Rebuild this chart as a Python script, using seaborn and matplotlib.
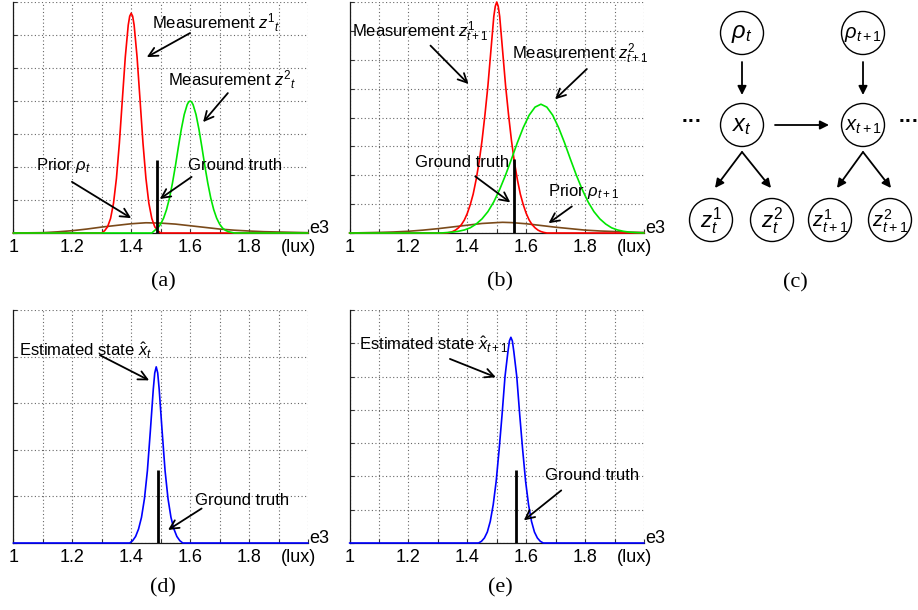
import matplotlib
matplotlib.use("Agg")
import matplotlib.pyplot as plt
import seaborn as sns
from matplotlib.patches import Circle

sns.set_style("white")
plt.rcParams["font.family"] = ["Liberation Sans", "DejaVu Sans"]
plt.rcParams["mathtext.fontset"] = "custom"
plt.rcParams["mathtext.rm"] = "Liberation Sans"
plt.rcParams["mathtext.it"] = "Liberation Sans:italic"
plt.rcParams["mathtext.bf"] = "Liberation Sans:bold"
plt.rcParams["text.color"] = "black"
plt.rcParams["xtick.color"] = "black"
plt.rcParams["ytick.color"] = "black"

# ---- data (x in e3 lux, y in grid units) ----
# (a) time t
a_red_x = [1.00, 1.30, 1.31, 1.32, 1.33, 1.34, 1.35, 1.36, 1.37, 1.38, 1.39, 1.395, 1.40,
           1.405, 1.41, 1.42, 1.43, 1.44, 1.45, 1.46, 1.47, 1.48, 1.49, 1.50, 2.00]
a_red_y = [0, 0, 0.07, 0.19, 0.44, 0.90, 1.66, 2.73, 4.04, 5.33, 6.30, 6.57, 6.66,
           6.57, 6.30, 5.33, 4.04, 2.73, 1.66, 0.90, 0.44, 0.19, 0.07, 0.0, 0]
a_green_x = [1.00, 1.47, 1.48, 1.49, 1.50, 1.51, 1.52, 1.53, 1.54, 1.55, 1.56, 1.57, 1.58,
             1.59, 1.595, 1.60, 1.605, 1.61, 1.62, 1.63, 1.64, 1.65, 1.66, 1.67, 1.68,
             1.69, 1.70, 1.71, 1.72, 1.73, 1.74, 1.75, 2.00]
a_green_y = [0, 0, 0.08, 0.15, 0.27, 0.45, 0.71, 1.06, 1.51, 2.03, 2.60, 3.14, 3.59,
             3.89, 3.97, 4.00, 3.97, 3.89, 3.59, 3.14, 2.60, 2.03, 1.51, 1.06, 0.71,
             0.45, 0.27, 0.15, 0.08, 0.04, 0.02, 0, 0]
a_prior_x = [1.00, 1.05, 1.10, 1.15, 1.20, 1.25, 1.30, 1.35, 1.40, 1.45, 1.50, 1.55,
             1.60, 1.65, 1.70, 1.75, 1.80, 1.85, 1.90, 1.95, 2.00]
a_prior_y = [0.0, 0.005, 0.01, 0.035, 0.07, 0.12, 0.18, 0.23, 0.28, 0.31, 0.30, 0.27,
             0.22, 0.17, 0.12, 0.085, 0.06, 0.04, 0.03, 0.02, 0.01]

# (b) time t+1
b_red_x = [1.00, 1.33, 1.34, 1.35, 1.36, 1.37, 1.38, 1.39, 1.40, 1.41, 1.42, 1.43, 1.44,
           1.45, 1.46, 1.47, 1.48, 1.49, 1.495, 1.50, 1.505, 1.51, 1.52, 1.53, 1.54,
           1.55, 1.56, 1.57, 1.58, 1.59, 1.60, 1.61, 1.62, 1.63, 1.64, 1.65, 1.66, 1.67, 2.00]
b_red_y = [0, 0, 0.02, 0.05, 0.10, 0.18, 0.29, 0.45, 0.68, 0.98, 1.35, 1.85, 2.45,
           3.20, 4.10, 5.10, 6.30, 7.50, 7.85, 8.00, 7.85, 7.50, 6.30, 5.10, 4.10,
           3.20, 2.45, 1.85, 1.35, 0.98, 0.68, 0.45, 0.29, 0.18, 0.10, 0.05, 0.02, 0, 0]
b_green_x = [1.00, 1.31, 1.33, 1.35, 1.37, 1.39, 1.41, 1.43, 1.45, 1.47, 1.49, 1.51, 1.53,
             1.55, 1.57, 1.59, 1.61, 1.63, 1.65, 1.67, 1.69, 1.71, 1.73, 1.75, 1.77,
             1.79, 1.81, 1.83, 1.85, 1.87, 1.89, 1.91, 1.93, 1.95, 1.97, 2.00]
b_green_y = [0, 0, 0.015, 0.03, 0.06, 0.105, 0.18, 0.31, 0.49, 0.74, 1.08, 1.51, 2.01,
             2.56, 3.13, 3.65, 4.08, 4.36, 4.46, 4.36, 4.08, 3.65, 3.13, 2.56, 2.01,
             1.51, 1.08, 0.74, 0.49, 0.31, 0.18, 0.105, 0.06, 0.03, 0.015, 0]
b_prior_x = [1.00, 1.05, 1.10, 1.15, 1.20, 1.25, 1.30, 1.35, 1.40, 1.45, 1.50, 1.52,
             1.55, 1.60, 1.65, 1.70, 1.75, 1.80, 1.85, 1.90, 1.95, 2.00]
b_prior_y = [0.0, 0.01, 0.02, 0.035, 0.06, 0.10, 0.15, 0.21, 0.27, 0.33, 0.36, 0.37,
             0.36, 0.32, 0.26, 0.20, 0.15, 0.10, 0.07, 0.05, 0.03, 0.02]

# (d) estimate at t
d_est_x = [1.00, 1.395, 1.405, 1.415, 1.425, 1.435, 1.445, 1.455, 1.465, 1.475, 1.48,
           1.485, 1.49, 1.495, 1.505, 1.515, 1.525, 1.535, 1.545, 1.555, 1.565, 1.575, 2.00]
d_est_y = [0, 0, 0.05, 0.14, 0.30, 0.55, 0.95, 1.55, 2.40, 3.30, 3.65,
           3.78, 3.65, 3.30, 2.40, 1.55, 0.95, 0.55, 0.30, 0.14, 0.05, 0, 0]

# (e) estimate at t+1
e_est_x = [1.00, 1.438, 1.448, 1.458, 1.468, 1.478, 1.488, 1.498, 1.508, 1.518, 1.528,
           1.538, 1.543, 1.548, 1.553, 1.558, 1.568, 1.578, 1.588, 1.598, 1.608, 1.618,
           1.628, 1.638, 1.648, 1.658, 2.00]
e_est_y = [0, 0, 0.05, 0.15, 0.33, 0.65, 1.15, 1.85, 2.80, 3.85, 5.00,
           5.75, 6.07, 6.18, 6.07, 5.75, 5.00, 3.85, 2.80, 1.85, 1.15, 0.65,
           0.33, 0.15, 0.05, 0, 0]

# ground truth bars for (a), (b), (d), (e)
truth_x = [1.486, 1.559, 1.490, 1.564]
truth_h = [2.20, 2.57, 1.56, 2.18]

y_tops = [7, 8, 5, 7]
xtick_vals = [1.0, 1.1, 1.2, 1.3, 1.4, 1.5, 1.6, 1.7, 1.8, 1.9, 2.0]
xtick_labels = ["1", "", "1.2", "", "1.4", "", "1.6", "", "1.8", "", ""]

RED, GREEN, BROWN, BLUE = "#ff0000", "#00e600", "#7a4a1a", "#0000ff"

W, H = 918, 610
fig = plt.figure(figsize=(9.18, 6.10), dpi=100)


def px_axes(left, top, right, bottom):
    return fig.add_axes([left / W, 1 - bottom / H, (right - left) / W, (bottom - top) / H])


def style_axes(ax, ytop):
    ax.set_xlim(1.0, 2.0)
    ax.set_ylim(0, ytop)
    ax.set_xticks(xtick_vals)
    ax.set_xticklabels(xtick_labels)
    ax.set_yticks(range(ytop + 1))
    ax.set_yticklabels([])
    ax.tick_params(axis="both", direction="in", length=3, width=0.8, color="0.2",
                   labelsize=13, pad=4, labelcolor="black")
    ax.tick_params(axis="x", bottom=True)
    ax.tick_params(axis="y", left=True)
    for s in ["top", "right"]:
        ax.spines[s].set_visible(False)
    for s in ["left", "bottom"]:
        ax.spines[s].set_color("0.1")
        ax.spines[s].set_linewidth(0.9)
    ax.grid(True, linestyle=(0, (1, 2.2)), color="0.4", linewidth=0.8)
    ax.set_axisbelow(True)
    ax.annotate("e3", xy=(1, 0), xycoords="axes fraction", xytext=(1, 0),
                textcoords="offset points", ha="left", va="baseline", fontsize=13)
    ax.annotate("(lux)", xy=(1.968, 0), xycoords=ax.get_xaxis_transform(),
                xytext=(0, -4), textcoords="offset points", ha="center", va="top",
                fontsize=13)


def curve(ax, xs, ys, color):
    sns.lineplot(x=xs, y=ys, ax=ax, color=color, linewidth=1.2, clip_on=False, zorder=3)


def note(ax, text, tpos, start, end):
    ax.text(tpos[0], tpos[1], text, ha="left", va="center", fontsize=12, zorder=5)
    ax.annotate("", xy=end, xytext=start,
                arrowprops=dict(arrowstyle="->", color="k", lw=1.3, mutation_scale=16,
                                shrinkA=0, shrinkB=0), zorder=5)


def truth(ax, i):
    ax.vlines(truth_x[i], 0, truth_h[i], color="k", linewidth=2.0, zorder=4)


ax_a = px_axes(13.3, 2, 308, 233)
ax_b = px_axes(349.5, 2, 644, 233)
ax_d = px_axes(13.3, 310, 308, 543)
ax_e = px_axes(349.5, 310, 644, 543)

# (a)
curve(ax_a, a_prior_x, a_prior_y, BROWN)
curve(ax_a, a_red_x, a_red_y, RED)
curve(ax_a, a_green_x, a_green_y, GREEN)
truth(ax_a, 0)
style_axes(ax_a, y_tops[0])
note(ax_a, r"Measurement $z^1{}_t$", (1.47, 6.36), (1.60, 6.06), (1.453, 5.33))
note(ax_a, r"Measurement $z^2{}_t$", (1.525, 4.64), (1.728, 4.24), (1.644, 3.36))
note(ax_a, r"Prior $\rho_t$", (1.077, 2.06), (1.199, 1.55), (1.40, 0.45))
note(ax_a, "Ground truth", (1.593, 2.06), (1.605, 1.70), (1.497, 1.03))

# (b)
curve(ax_b, b_prior_x, b_prior_y, BROWN)
curve(ax_b, b_red_x, b_red_y, RED)
curve(ax_b, b_green_x, b_green_y, GREEN)
truth(ax_b, 1)
style_axes(ax_b, y_tops[1])
note(ax_b, r"Measurement $z^1_{t+1}$", (1.01, 6.96), (1.275, 6.49), (1.404, 5.16))
note(ax_b, r"Measurement $z^2_{t+1}$", (1.553, 6.20), (1.806, 5.68), (1.698, 4.63))
note(ax_b, "Ground truth", (1.224, 2.43), (1.427, 1.96), (1.546, 1.06))
note(ax_b, r"Prior $\rho_{t+1}$", (1.674, 1.44), (1.755, 0.92), (1.676, 0.34))

# (d)
curve(ax_d, d_est_x, d_est_y, BLUE)
truth(ax_d, 2)
style_axes(ax_d, y_tops[2])
note(ax_d, r"Estimated state $\hat{x}_t$", (1.02, 4.13), (1.294, 4.03), (1.461, 3.49))
note(ax_d, "Ground truth", (1.616, 0.92), (1.639, 0.74), (1.525, 0.28))

# (e)
curve(ax_e, e_est_x, e_est_y, BLUE)
truth(ax_e, 3)
style_axes(ax_e, y_tops[3])
note(ax_e, r"Estimated state $\hat{x}_{t+1}$", (1.032, 5.94), (1.341, 5.53), (1.497, 4.98))
note(ax_e, "Ground truth", (1.665, 2.03), (1.719, 1.58), (1.592, 0.68))

# (c) graphical model
ax_c = fig.add_axes([660 / W, 1 - 300 / H, 258 / W, 300 / H])
ax_c.set_xlim(660, 918)
ax_c.set_ylim(300, 0)
ax_c.axis("off")
nodes = [
    (r"$\rho_t$", 742, 33, 17), (r"$\rho_{t+1}$", 863, 33, 14.5),
    (r"$x_t$", 742, 125, 17), (r"$x_{t+1}$", 863, 125, 14.5),
    (r"$z^1_t$", 711, 220, 16), (r"$z^2_t$", 772, 220, 16),
    (r"$z^1_{t+1}$", 830, 220, 14.5), (r"$z^2_{t+1}$", 890, 220, 14.5),
]
for lab, cx, cy, fs in nodes:
    ax_c.add_patch(Circle((cx, cy), 21.5, facecolor="white", edgecolor="k", lw=1.0))
    ax_c.text(cx, cy + 1, lab, ha="center", va="center", fontsize=fs)
edges = [((742, 62), (742, 95)), ((863, 62), (863, 95)), ((775, 125), (829, 125)),
         ((742, 152), (715, 188)), ((742, 152), (771, 188)),
         ((863, 152), (837, 188)), ((863, 152), (891, 188))]
for s, e in edges:
    ax_c.annotate("", xy=e, xytext=s,
                  arrowprops=dict(arrowstyle="-|>", color="k", lw=1.3, mutation_scale=13,
                                  shrinkA=0, shrinkB=0))
ax_c.text(692, 122, "···", ha="center", va="center", fontsize=15, weight="bold")
ax_c.text(909, 122, "···", ha="center", va="center", fontsize=15, weight="bold")

for lab, (x, y) in {"(a)": (163, 282), "(b)": (500, 282), "(c)": (795, 283),
                    "(d)": (163, 588), "(e)": (500, 588)}.items():
    fig.text(x / W, 1 - y / H, lab, ha="center", va="center", fontsize=16,
             family="Liberation Serif")

fig.savefig("out.png", dpi=100)
